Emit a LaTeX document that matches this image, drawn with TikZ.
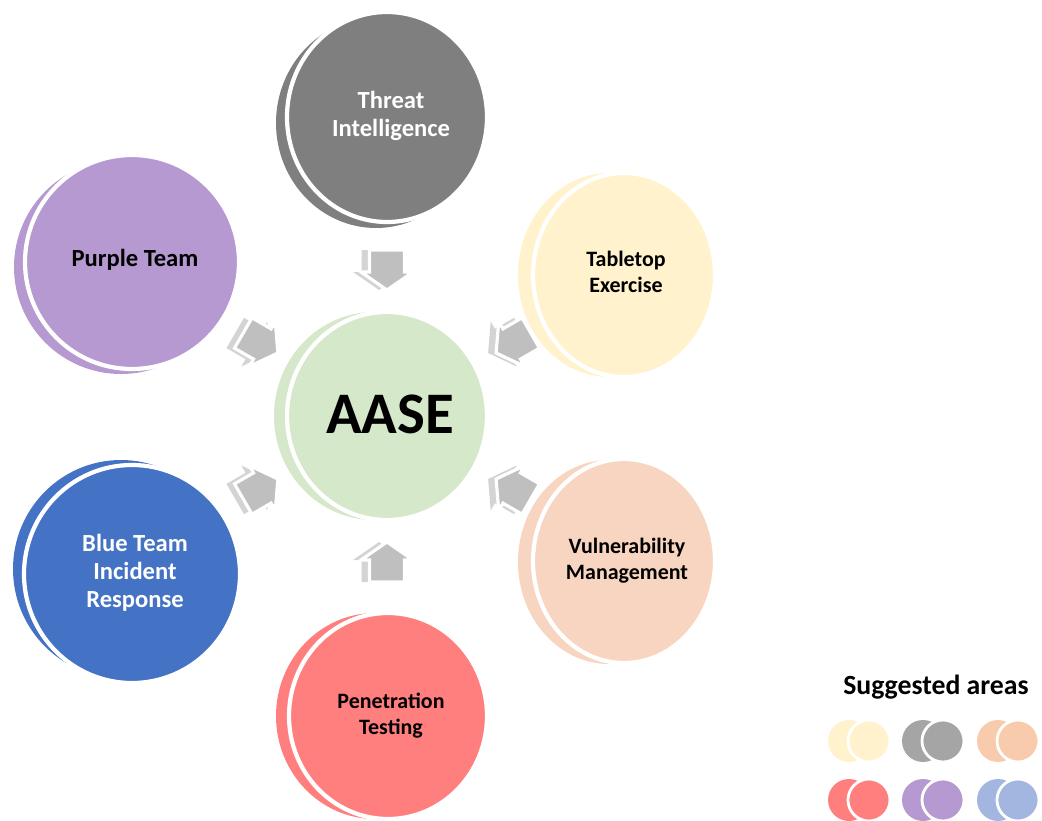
\documentclass[tikz,border=0pt]{standalone}
\usepackage{fontspec}
\setmainfont{Carlito}
\usetikzlibrary{calc}
\definecolor{hubgreen}{HTML}{D5E8CA}
\definecolor{threatgray}{HTML}{7F7F7F}
\definecolor{tablecream}{HTML}{FFF2CC}
\definecolor{vulnpeach}{HTML}{F8D5C0}
\definecolor{penred}{HTML}{FF7F7F}
\definecolor{teamblue}{HTML}{4472C4}
\definecolor{teampurple}{HTML}{B599D0}
\definecolor{keygray}{HTML}{A5A5A5}
\definecolor{keypeach}{HTML}{F8CBAD}
\definecolor{keyblue}{HTML}{A2B6E0}
\definecolor{arrowgray}{HTML}{BFBFBF}
\definecolor{arrowlight}{HTML}{D4D4D4}
\tikzset{
  ring/.style={draw=white, line width=2.4pt},
  keyring/.style={draw=white, line width=1.6pt},
  arrowfront/.style={fill=arrowgray, draw=white, line width=1.8pt, line join=miter},
  arrowback/.style={fill=arrowlight},
  lab/.style={align=center, font=\bfseries\fontsize{14}{16}\selectfont},
  labs/.style={align=center, font=\bfseries\fontsize{12.5}{14.8}\selectfont},
}

\begin{document}
\begin{tikzpicture}[x=0.02cm, y=-0.02cm]
  \useasboundingbox (0,0) rectangle (1042,821);
  \coordinate (hub) at (387,416);

  % outer circles, each with a crescent behind it
  \fill[threatgray] (376,123) ellipse [x radius=100, y radius=105];
  \draw[ring, fill=threatgray] (387,117) ellipse [x radius=100, y radius=105];
  \node[lab, text=white] (threat) at (391,116) {Threat\\Intelligence};

  \fill[teampurple] (121,267) ellipse [x radius=107, y radius=107];
  \draw[ring, fill=teampurple] (132,262) ellipse [x radius=107, y radius=107];
  \node[lab] (purpleteam) at (135,260) {Purple Team};

  \fill[tablecream] (609,275) ellipse [x radius=91, y radius=102];
  \draw[ring, fill=tablecream] (624,275) ellipse [x radius=91, y radius=102];
  \node[labs] (tabletop) at (626,272) {Tabletop\\Exercise};

  \fill[vulnpeach] (609,562) ellipse [x radius=91, y radius=102];
  \draw[ring, fill=vulnpeach] (624,561) ellipse [x radius=91, y radius=102];
  \node[labs] (vuln) at (627,561) {Vulnerability\\Management};

  \fill[penred] (375,716) ellipse [x radius=99, y radius=103];
  \draw[ring, fill=penred] (388,716) ellipse [x radius=99, y radius=103];
  \node[labs] (pentest) at (391,716) {Penetration\\Testing};

  \fill[teamblue] (121,569) ellipse [x radius=108, y radius=109];
  \draw[ring, fill=teamblue] (132,574) ellipse [x radius=108, y radius=109];
  \node[lab, text=white] (blueteam) at (135,573) {Blue Team\\Incident\\Response};

  % centre
  \fill[hubgreen] (374,416) ellipse [x radius=100, y radius=104];
  \draw[ring, fill=hubgreen] (hub) ellipse [x radius=100, y radius=104];
  \node[font=\bfseries\fontsize{33.5}{40}\selectfont] (aase) at (390,414) {AASE};

  % block arrows pointing in
  \foreach \a in {-90,-150,150,90,30,-30} {
    \begin{scope}[shift={($(hub)+(\a:146)+(-8,0)$)}, rotate={-\a-180}]
      \fill[arrowback] (-20,-17.5) -- (2,-17.5) -- (2,-26) -- (20,0) -- (2,26) -- (2,17.5) -- (-20,17.5) -- cycle;
    \end{scope}
    \begin{scope}[shift={($(hub)+(\a:146)$)}, rotate={-\a-180}]
      \draw[arrowfront] (-20,-17.5) -- (2,-17.5) -- (2,-26) -- (20,0) -- (2,26) -- (2,17.5) -- (-20,17.5) -- cycle;
    \end{scope}
  }

  % key
  \node[font=\bfseries\fontsize{15.8}{18}\selectfont] (keytitle) at (936,687) {Suggested areas};
  \foreach \x/\y/\c in {869/741/tablecream, 943/741/keygray, 1018/741/keypeach,
                        869/800/penred, 943/800/teampurple, 1018/800/keyblue} {
    \fill[\c] (\x-20,\y) circle [radius=21];
    \draw[keyring, fill=\c] (\x,\y) circle [radius=21];
  }
\end{tikzpicture}
\end{document}
